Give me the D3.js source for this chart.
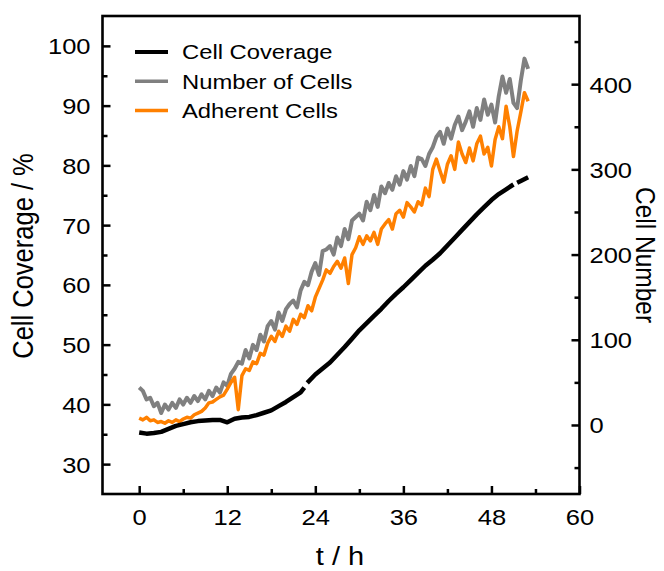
<!DOCTYPE html>
<html>
<head>
<meta charset="utf-8">
<title>Cell Coverage / Cell Number</title>
<style>
  body { margin: 0; background: #fff; }
  text { font-family: Arial, "Liberation Sans", sans-serif; fill: #000; }
</style>
</head>
<body>
<main></main>
<script src="https://cdn.jsdelivr.net/npm/d3@7/dist/d3.min.js"></script>
<script>
// data ==============================
// black series, roughly one reading per hour (null = missing frame)
var coverageTime = [0,1,2,3,4,5,6,7,8,9,10,11,12,13,14,15,16,17,18,19,20,21,22,22.5,22.7,22.9,24,25,26,27,28,29,30,31,32,33,34,35,36,37,38,39,40,41,42,43,44,45,46,47,48,49,50,51,51.3,51.5,52,53];
var coverage = [35.3,35.1,35.2,35.4,35.9,36.4,36.7,37.0,37.2,37.3,37.4,37.4,37.0,37.6,37.8,37.9,38.2,38.6,39.0,39.7,40.4,41.2,42.0,42.8,null,43.6,45.0,46.0,47.0,48.3,49.6,51.0,52.4,53.6,54.8,56.0,57.3,58.5,59.6,60.8,62.0,63.2,64.2,65.3,66.6,67.9,69.2,70.5,71.8,73.0,74.2,75.2,76.0,76.8,null,77.1,77.4,78.0];

// gray and orange series, one reading per half hour
var countTime = [0,0.5,1,1.5,2,2.5,3,3.5,4,4.5,5,5.5,6,6.5,7,7.5,8,8.5,9,9.5,10,10.5,11,11.5,12,12.5,13,13.5,14,14.5,15,15.5,16,16.5,17,17.5,18,18.5,19,19.5,20,20.5,21,21.5,22,22.5,23,23.5,24,24.5,25,25.5,26,26.5,27,27.5,28,28.5,29,29.5,30,30.5,31,31.5,32,32.5,33,33.5,34,34.5,35,35.5,36,36.5,37,37.5,38,38.5,39,39.5,40,40.5,41,41.5,42,42.5,43,43.5,44,44.5,45,45.5,46,46.5,47,47.5,48,48.5,49,49.5,50,50.5,51,51.5,52,52.5,53];
var cellCount = [44,40,30,32,22,26,14,24,18,26,
                 20,30,24,32,26,34,28,36,30,40,
                 34,44,38,50,46,60,66,74,72,88,
                 78,94,88,106,98,116,122,112,132,122,
                 136,142,146,138,158,168,164,180,190,176,
                 204,206,210,200,220,210,230,218,240,244,
                 248,240,262,252,270,256,280,272,284,276,
                 292,282,298,288,304,292,314,312,304,318,
                 326,338,344,330,348,336,352,362,346,356,
                 368,350,372,358,382,364,376,355,386,409,
                 390,406,378,372,404,430,418];
var adherent = [8,6,9,5,6,3,4,2,5,3,
                6,4,7,9,8,12,14,16,20,26,
                27,30,33,35,42,50,56,18,58,66,
                64,74,72,84,82,96,104,98,110,104,
                116,110,124,118,130,126,140,134,150,160,
                170,182,178,186,192,184,196,166,200,208,
                221,212,222,216,226,212,230,236,241,230,
                248,252,244,261,256,250,262,258,278,268,
                300,312,298,285,306,316,300,332,318,308,
                325,310,330,339,318,326,304,335,350,336,
                374,350,315,345,367,390,380];

var legendNames = ["Cell Coverage", "Number of Cells", "Adherent Cells"];
var legendColors = ["#000000", "#808080", "#ff8000"];

var xTicks = [0, 12, 24, 36, 48, 60];
var xMinor = [6, 18, 30, 42, 54];
var yLeftTicks = [30, 40, 50, 60, 70, 80, 90, 100];
var yLeftMinor = [35, 45, 55, 65, 75, 85, 95];
var yRightTicks = [0, 100, 200, 300, 400];
var yRightMinor = [-50, 50, 150, 250, 350, 450];

// layout ============================
var width = 664, height = 571;
var box = {left: 102.5, right: 579.5, top: 16, bottom: 494};
var stretchX = 1.16; // glyphs in the picture are a bit wide

var svg = d3.select("main").append("svg")
    .attr("width", width)
    .attr("height", height);

var x = d3.scaleLinear().domain([-5, 60]).range([box.left, box.right]);
var yL = d3.scaleLinear().domain([25, 105]).range([box.bottom, box.top]);
var yR = d3.scaleLinear().domain([-81, 480]).range([box.bottom, box.top]);

// widen text around its anchor x
function stretch(sel) {
    sel.attr("transform", function () {
        var ax = +this.getAttribute("x") || 0;
        return "translate(" + ax + ",0) scale(" + stretchX + ",1) translate(" + (-ax) + ",0)";
    });
}

function styleAxis(g) {
    g.select(".domain").remove();
    g.selectAll(".tick line").attr("stroke", "#000").attr("stroke-width", 2.5);
    g.selectAll(".tick text").attr("font-size", 22).attr("fill", "#000")
        .attr("font-family", "Arial, 'Liberation Sans', sans-serif");
}

// axes ==============================
var gx = svg.append("g").attr("transform", "translate(0," + box.bottom + ")")
    .call(d3.axisBottom(x).tickValues(xTicks).tickSize(-8).tickPadding(15));
styleAxis(gx);
gx.selectAll(".tick text").call(stretch);
var gxm = svg.append("g").attr("transform", "translate(0," + box.bottom + ")")
    .call(d3.axisBottom(x).tickValues(xMinor).tickSize(-5).tickFormat(""));
styleAxis(gxm);

var gl = svg.append("g").attr("transform", "translate(" + box.left + ",0)")
    .call(d3.axisLeft(yL).tickValues(yLeftTicks).tickSize(-8).tickPadding(12));
styleAxis(gl);
gl.selectAll(".tick text").attr("dy", "0.36em").call(stretch);
var glm = svg.append("g").attr("transform", "translate(" + box.left + ",0)")
    .call(d3.axisLeft(yL).tickValues(yLeftMinor).tickSize(-5).tickFormat(""));
styleAxis(glm);

var gr = svg.append("g").attr("transform", "translate(" + box.right + ",0)")
    .call(d3.axisRight(yR).tickValues(yRightTicks).tickSize(-8).tickPadding(10));
styleAxis(gr);
gr.selectAll(".tick text").attr("dy", "0.36em").call(stretch);
var grm = svg.append("g").attr("transform", "translate(" + box.right + ",0)")
    .call(d3.axisRight(yR).tickValues(yRightMinor).tickSize(-5).tickFormat(""));
styleAxis(grm);

// frame
svg.append("rect")
    .attr("x", box.left).attr("y", box.top)
    .attr("width", box.right - box.left).attr("height", box.bottom - box.top)
    .attr("fill", "none").attr("stroke", "#000").attr("stroke-width", 2.6);

// lines =============================
var countLine = d3.line()
    .x(function (d, i) { return x(countTime[i]); })
    .y(function (d) { return yR(d); });

svg.append("path").datum(cellCount)
    .attr("d", countLine)
    .attr("fill", "none").attr("stroke", legendColors[1])
    .attr("stroke-width", 4).attr("stroke-linejoin", "round");

svg.append("path").datum(adherent)
    .attr("d", countLine)
    .attr("fill", "none").attr("stroke", legendColors[2])
    .attr("stroke-width", 3.5).attr("stroke-linejoin", "round");

var coverageLine = d3.line()
    .defined(function (d) { return d !== null; })
    .x(function (d, i) { return x(coverageTime[i]); })
    .y(function (d) { return yL(d); });

svg.append("path").datum(coverage)
    .attr("d", coverageLine)
    .attr("fill", "none").attr("stroke", legendColors[0])
    .attr("stroke-width", 4.5).attr("stroke-linejoin", "round");

// legend ============================
var legend = svg.append("g");
var legendWidths = [4, 3.5, 3.5];
legendNames.forEach(function (name, i) {
    var ly = 52 + i * 29.3;
    legend.append("line")
        .attr("x1", 135).attr("x2", 168).attr("y1", ly).attr("y2", ly)
        .attr("stroke", legendColors[i]).attr("stroke-width", legendWidths[i]);
    legend.append("text")
        .attr("x", 182).attr("y", ly).attr("dy", "0.36em")
        .attr("font-size", 20.5)
        .text(name)
        .call(stretch);
});

// titles ============================
svg.append("text")
    .attr("text-anchor", "middle").attr("font-size", 25.5)
    .attr("transform", "translate(33,256) scale(" + stretchX + ",1) rotate(-90)")
    .text("Cell Coverage / %");

svg.append("text")
    .attr("text-anchor", "middle").attr("font-size", 24.5)
    .attr("transform", "translate(636,255) scale(" + stretchX + ",1) rotate(90)")
    .text("Cell Number");

svg.append("text")
    .attr("x", 340).attr("y", 565)
    .attr("text-anchor", "middle").attr("font-size", 25)
    .text("t / h")
    .call(stretch);
</script>
</body>
</html>
